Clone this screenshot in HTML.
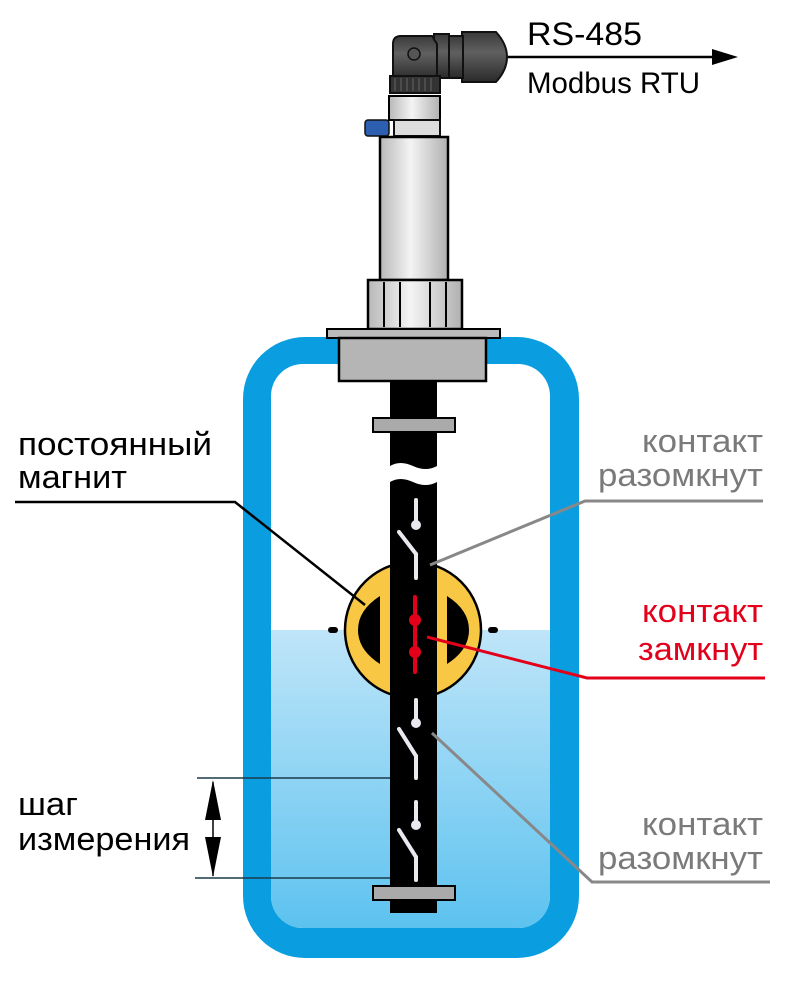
<!DOCTYPE html>
<html><head><meta charset="utf-8"><style>html,body{margin:0;padding:0;background:#fff}svg{display:block}text{font-family:"Liberation Sans",sans-serif}</style></head><body>
<svg width="800" height="981" viewBox="0 0 800 981" xmlns="http://www.w3.org/2000/svg">
<defs>
<linearGradient id="water" x1="0" y1="0" x2="0" y2="1"><stop offset="0" stop-color="#bfe5f9"/><stop offset="1" stop-color="#5cc2ef"/></linearGradient>
<linearGradient id="metal" x1="0" y1="0" x2="1" y2="0"><stop offset="0" stop-color="#b8b8b8"/><stop offset="0.45" stop-color="#f4f4f4"/><stop offset="1" stop-color="#b0b0b0"/></linearGradient>
<linearGradient id="dark" x1="0" y1="0" x2="0" y2="1"><stop offset="0" stop-color="#3a3a3a"/><stop offset="0.4" stop-color="#606060"/><stop offset="1" stop-color="#2a2a2a"/></linearGradient>
<clipPath id="inner"><rect x="271" y="364" width="279" height="564" rx="32"/></clipPath>
</defs>
<rect x="243" y="337" width="336" height="621" rx="62" fill="#0a9ee0"/>
<rect x="271" y="364" width="279" height="564" rx="32" fill="#fff"/>
<rect x="271" y="630" width="279" height="300" fill="url(#water)" clip-path="url(#inner)"/>
<!-- sensor head -->
<line x1="505" y1="57" x2="716" y2="57" stroke="#000" stroke-width="2.5"/>
<polygon points="738,57 712,49 712,65" fill="#000"/>
<path d="M462 32 L496 32 Q507 44 507 57 Q507 70 496 82 L462 82 Z" fill="url(#dark)" stroke="#111" stroke-width="2"/>
<rect x="448" y="36" width="15" height="42" fill="url(#dark)" stroke="#111" stroke-width="2"/>
<rect x="434" y="34" width="15" height="44" fill="url(#dark)" stroke="#111" stroke-width="2"/>
<path d="M393 44 Q393 36 401 36 L432 36 L437 44 L437 80 L393 80 Z" fill="url(#dark)" stroke="#111" stroke-width="2"/>
<circle cx="414" cy="54" r="6" fill="#555" stroke="#111" stroke-width="1.5"/>
<rect x="390" y="76" width="50" height="17" fill="#333" stroke="#111" stroke-width="2"/>
<g stroke="#666" stroke-width="1"><line x1="395" y1="78" x2="395" y2="91"/><line x1="401" y1="78" x2="401" y2="91"/><line x1="407" y1="78" x2="407" y2="91"/><line x1="413" y1="78" x2="413" y2="91"/><line x1="419" y1="78" x2="419" y2="91"/><line x1="425" y1="78" x2="425" y2="91"/><line x1="431" y1="78" x2="431" y2="91"/></g>
<rect x="389" y="96" width="51" height="24" fill="url(#metal)" stroke="#000" stroke-width="2"/>
<rect x="365" y="120" width="24" height="16" rx="3" fill="#2d5fb0" stroke="#111" stroke-width="1.5"/>
<rect x="394" y="120" width="46" height="16" fill="#ddd" stroke="#111" stroke-width="2"/>
<rect x="380" y="137" width="68" height="143" fill="url(#metal)" stroke="#000" stroke-width="2.5"/>
<rect x="368" y="280" width="94" height="49" fill="url(#metal)" stroke="#000" stroke-width="2.5"/>
<line x1="384" y1="282" x2="384" y2="327" stroke="#000" stroke-width="2"/>
<line x1="400" y1="282" x2="400" y2="327" stroke="#000" stroke-width="2"/>
<line x1="430" y1="282" x2="430" y2="327" stroke="#000" stroke-width="2"/>
<line x1="446" y1="282" x2="446" y2="327" stroke="#000" stroke-width="2"/>
<rect x="327" y="329" width="173" height="9" fill="#bbb" stroke="#000" stroke-width="2"/>
<rect x="339" y="338" width="147" height="43" fill="#b5b5b5" stroke="#000" stroke-width="2.5"/>
<!-- rod -->
<path d="M390 381 L437 381 L437 466 Q426 472 413 466 Q400 460 390 466 Z" fill="#000"/>
<path d="M390 482 Q400 476 413 482 Q426 488 437 482 L437 913 L390 913 Z" fill="#000"/>
<rect x="373" y="418" width="82" height="14" fill="#aaa" stroke="#000" stroke-width="2"/>
<rect x="373" y="886" width="82" height="14" fill="#aaa" stroke="#000" stroke-width="2"/>
<!-- float -->
<rect x="328" y="627" width="10" height="6" rx="3" fill="#000"/>
<rect x="488" y="627" width="10" height="6" rx="3" fill="#000"/>
<circle cx="413" cy="630" r="68" fill="#f8c845" stroke="#000" stroke-width="2.5"/>
<rect x="390" y="560" width="47" height="140" fill="#000"/>
<path d="M380 596 L380 664 Q358 650 358 630 Q358 610 380 596 Z" fill="#000"/>
<path d="M447 596 L447 664 Q469 650 469 630 Q469 610 447 596 Z" fill="#000"/>
<g stroke="#e8eaf0" stroke-width="4" stroke-linecap="round" fill="#e8eaf0">
<line x1="416" y1="500" x2="416" y2="524"/><circle cx="416" cy="525" r="3"/>
<line x1="399" y1="532" x2="416" y2="554"/><line x1="416" y1="554" x2="416" y2="578"/>
<line x1="416" y1="700" x2="416" y2="722"/><circle cx="416" cy="723" r="3"/>
<line x1="399" y1="729" x2="416" y2="756"/><line x1="416" y1="756" x2="416" y2="778"/>
<line x1="416" y1="802" x2="416" y2="824"/><circle cx="416" cy="825" r="3"/>
<line x1="399" y1="830" x2="416" y2="857"/><line x1="416" y1="857" x2="416" y2="880"/>
</g>
<g stroke="#e2001a" stroke-width="4" stroke-linecap="round" fill="#e2001a">
<line x1="415" y1="597" x2="415" y2="672"/><circle cx="415" cy="620" r="4"/><circle cx="415" cy="652" r="4"/>
</g>
<polyline points="15,502 235,502 365,605" fill="none" stroke="#000" stroke-width="2.5"/>
<polyline points="763,501 585,501 430,565" fill="none" stroke="#888" stroke-width="3"/>
<polyline points="765,678 587,678 427,637" fill="none" stroke="#e2001a" stroke-width="3"/>
<polyline points="770,882 592,882 432,733" fill="none" stroke="#888" stroke-width="3"/>
<line x1="197" y1="778" x2="390" y2="778" stroke="#1a3a4a" stroke-width="1.5"/>
<line x1="195" y1="878" x2="390" y2="878" stroke="#1a3a4a" stroke-width="1.5"/>
<line x1="213" y1="782" x2="213" y2="876" stroke="#000" stroke-width="1.5"/>
<polygon points="213,780 205,820 221,820" fill="#000"/>
<polygon points="213,877 205,837 221,837" fill="#000"/>
<text x="527" y="45" font-size="32" textLength="115" lengthAdjust="spacingAndGlyphs">RS-485</text>
<text x="527" y="93" font-size="30" textLength="173" lengthAdjust="spacingAndGlyphs">Modbus RTU</text>
<text x="18" y="455" font-size="32" textLength="194" lengthAdjust="spacingAndGlyphs">постоянный</text>
<text x="18" y="488" font-size="32" textLength="109" lengthAdjust="spacingAndGlyphs">магнит</text>
<g fill="#7a7a7a" font-size="32">
<text x="642" y="452" textLength="121" lengthAdjust="spacingAndGlyphs">контакт</text>
<text x="598" y="486" textLength="165" lengthAdjust="spacingAndGlyphs">разомкнут</text>
<text x="642" y="835" textLength="121" lengthAdjust="spacingAndGlyphs">контакт</text>
<text x="598" y="869" textLength="165" lengthAdjust="spacingAndGlyphs">разомкнут</text>
</g>
<g fill="#e2001a" font-size="32">
<text x="642" y="622" textLength="121" lengthAdjust="spacingAndGlyphs">контакт</text>
<text x="638" y="660" textLength="125" lengthAdjust="spacingAndGlyphs">замкнут</text>
</g>
<text x="18" y="815" font-size="32" textLength="60" lengthAdjust="spacingAndGlyphs">шаг</text>
<text x="18" y="850" font-size="32" textLength="172" lengthAdjust="spacingAndGlyphs">измерения</text>
</svg>
</body></html>
